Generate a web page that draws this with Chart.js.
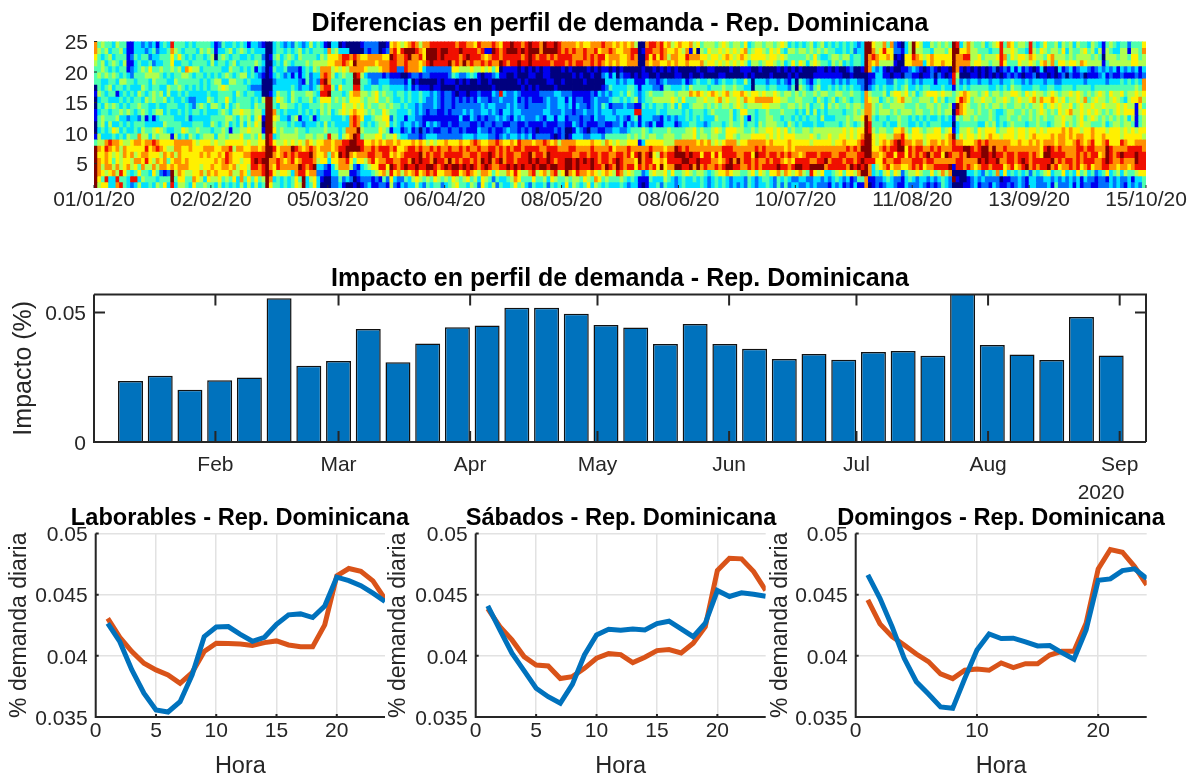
<!DOCTYPE html>
<html>
<head>
<meta charset="utf-8">
<script src="https://cdn.jsdelivr.net/npm/chart.js@4"></script>
<style>
html, body { margin: 0; background: #fff; width: 1192px; height: 776px; overflow: hidden; }
canvas { position: absolute; }
</style>
</head>
<body>
<script>
// heat map: one string per day, levels 0-9, top row (24) first
const heatCols = [
"7765 4440 1001 1001 4999 9999","4544 4544 5343 4435 5767 7765","5435 5433 4434 5543 5666 5646","4543 4534 3454 4333 7877 7586",
"4354 3445 4343 4543 8766 7633","3435 4543 4354 4364 7654 5733","5444 3434 1344 5353 7766 7587","4543 4354 3435 3434 6555 5848",
"4345 4453 4344 3343 5776 6644","1111 1344 3435 2435 5666 7433","1121 2243 4344 3334 6675 5382","3343 3433 3443 3444 7657 6483",
"3334 4443 5454 2437 7667 4635","2343 5445 4345 4455 6676 7453","3243 4544 3544 1345 7878 5443","2324 6533 4433 3343 7666 5344",
"3432 4554 5534 1355 8765 7643","1233 4544 4445 3364 7867 5435","3343 5443 5435 4355 6756 7244","4344 4343 3533 4545 6677 7146",
"3444 4435 5344 4435 6564 6243","8766 5334 3443 4431 6576 7998","4543 4454 3343 3445 7757 6543","4463 5445 4334 3443 7777 7765",
"4344 3544 3433 3364 7666 7665","3434 7543 4344 4353 7667 7544","4443 6444 3233 2345 7766 6543","3434 5343 3224 3444 6666 6676",
"4344 5444 3344 3453 5666 6664","4544 3433 3353 3444 6676 5754","4434 4344 3344 3345 6766 6535","4543 4433 4533 3345 6776 6764",
"3455 4344 3453 4535 5766 7654","1103 4454 3353 4443 6667 6753","2344 4355 4444 4345 5676 6665","4354 3436 4435 4455 5767 7643",
"3443 3535 4654 5544 6788 7654","3534 5454 4433 5315 6877 6743","4345 4354 3345 4445 6566 7564","3443 4444 5455 3345 6766 5533",
"4534 3544 4446 5556 6765 6775","3434 4534 3445 4354 5676 6643","1344 3343 4445 5564 6676 5465","3434 4432 4334 3455 5788 8743",
"3345 1332 3455 5654 5789 8765","2344 3232 3345 6556 6688 7743","1323 2100 0543 1014 6789 8854","0000 0000 0999 9999 9999 9999",
"0010 1100 1999 9998 8997 7876","3343 4323 3447 6563 6877 6634","4454 3433 5634 5444 5668 8544","3433 3333 4553 3455 5777 7633",
"2345 4233 4454 3445 6786 7644","3454 2333 3343 2345 5777 7533","2343 2134 5543 4445 6988 7344","4434 2333 4433 5355 5876 7766",
"3554 1122 4344 1344 6787 9845","2344 3313 4433 3244 5688 8899","3445 4443 5434 3335 7788 7633","5344 3222 5543 4345 6898 8754",
"3445 5333 4344 1344 5777 9766","4435 4324 3443 3445 6665 3233","3455 7787 8655 4345 6766 3210","1345 7898 8644 4554 7776 2100",
"0766 7778 9655 4348 7743 1100","3466 5545 4443 3445 6676 3322","3567 6343 4544 3345 7766 5322","0377 5446 4445 3333 7897 7543",
"1388 6534 3566 4345 8887 7521","0387 5444 4455 3376 8998 7530","0076 7444 6656 7777 9976 5120","0089 7998 7667 8879 9964 2101",
"0077 7898 7656 7798 8976 1210","1067 7544 5566 6454 8876 3321","2267 6343 5445 3345 6775 4322","2177 5233 4554 3445 6787 5323",
"2277 5224 5545 4345 7888 6411","2276 5224 6644 5446 6776 6521","0077 6233 4454 5566 7877 8612","0167 7134 5456 6554 6887 8742",
"1267 7234 4545 6645 7888 6521","6798 8123 4454 2315 7768 9865","7888 8123 3344 4436 6877 8632","6677 2123 4343 3334 7667 7721",
"5877 2023 4433 3213 6678 8523","6988 8012 3343 1323 6788 9742","7997 7133 4434 3332 6887 8633","8977 7201 3333 3212 7889 8753",
"7877 7212 3322 2322 6788 9865","5786 6101 4433 2201 7899 8653","7667 3201 3322 1122 6778 8742","7998 2201 3221 1313 5788 9854",
"8999 2100 2222 1223 6877 9743","8998 2101 3332 1313 5789 8864","8888 2111 2221 1212 6888 7654","8998 2100 1111 1122 6778 8642",
"8988 2110 2222 1122 7787 9753","8889 2210 2221 1212 6889 8744","8887 6410 1112 1122 6787 9865","7888 6301 0222 1122 6788 9856",
"8977 5210 1122 3212 7887 8644","8889 5200 1223 1223 6778 9754","7897 5310 0122 1213 6878 8863","7888 6400 1223 3113 7787 9745",
"6887 5300 1122 2112 8788 8654","8787 5110 2322 1233 7877 7532","7878 6000 1233 2123 6789 8766","7167 5100 1223 1223 6788 9754",
"7178 6110 1132 2212 7899 8643","8987 4201 3233 2122 7887 7425","7887 6300 2222 3211 8778 7642","6779 0100 8321 2212 7889 8534",
"8888 1100 3223 3123 6777 8533","8987 1000 2233 2132 6888 9743","9988 1000 2222 1223 7788 8654","8988 1100 3333 3223 6877 9876",
"8889 0010 2123 2112 8878 8664","7978 1001 1222 3123 7788 9545","8888 0010 1112 2212 7888 8543","9999 1101 1222 2123 7899 8742",
"8988 0100 1122 2111 6878 9864","8978 1001 1122 3102 7889 8543","7788 0000 2122 2112 7788 9643","9988 1100 2223 1212 8778 9754",
"8978 1110 2333 3112 7899 8532","8987 0010 2222 3111 6888 9764","9978 0001 3222 1120 7887 9853","8888 0000 3332 3211 5788 8544",
"7788 1010 2333 3222 7788 8643","7887 0000 2122 1100 7789 9956","7788 1000 2332 2101 7889 9743","7877 0100 1111 2313 7878 8655",
"6778 0000 1232 2233 6779 9854","7778 0100 1222 1123 6788 8743","6887 0010 1123 2212 6789 8764","6777 1000 1112 2102 6778 8656",
"7788 0100 2222 1123 7889 9743","7877 1000 1333 3123 6788 8675","7688 0000 3222 2213 6777 8564","8787 1201 2243 2212 5788 7643",
"7766 1332 3233 3124 7788 9754","7877 0134 2313 3124 6877 8643","6776 1333 3422 3234 5678 7543","7677 0023 3423 2234 6789 9843",
"6666 1233 4323 3324 5788 8754","7766 0123 3433 2124 5777 7543","6777 0134 5323 1335 6887 8632","7887 0034 4423 3244 6767 8543",
"5877 0113 3518 4345 6786 6433","0000 0011 2218 1144 1799 8411","0100 1113 3343 3355 3777 7210","7887 0133 4433 3244 6788 8311",
"8866 0023 5443 3135 6898 7543","8787 1022 4533 2345 6766 8633","7767 0112 4544 2144 6756 6534","8886 1021 4543 1144 6787 9532",
"6776 0034 5533 3345 5676 6654","7657 1024 5544 2355 5788 7443","5676 0023 5654 3345 5788 7633","6777 1123 4534 2144 7998 9422",
"7666 0123 5454 3244 7898 9433","6566 0034 5633 3345 7799 8544","6787 0013 5434 4355 7889 8633","7176 0125 7443 3455 7798 9533",
"5676 0034 6454 4466 7788 7443","6076 1044 7554 3344 6789 9533","4567 0134 6554 4355 7768 7544","5465 0034 5643 3245 6788 8433",
"5656 1043 6554 3344 7788 7322","5566 1034 7545 3455 5767 7433","4565 0024 6654 5465 6787 8544","5656 0134 5744 4454 5766 7633",
"6565 0145 6554 4344 6887 8644","5676 0034 7654 4466 7888 9733","4565 1034 5545 5566 7889 9622","5656 0045 6553 3465 7787 8533",
"5565 0034 6664 4454 5779 8532","4676 1034 7556 5555 6777 7433","6765 1153 6746 3345 6788 7422","3453 1033 5654 1445 7788 8544",
"4565 0100 6654 4456 7767 7633","5665 0034 6753 3346 7898 8422","5664 1034 5754 4556 7787 7633","4565 0034 6764 4456 7887 8543",
"5456 0023 5765 5565 6778 8444","5666 0134 5754 5566 7787 8633","4565 0034 6654 4555 6788 8622","5654 1023 5654 4466 6778 9744",
"6465 0033 4545 3455 6787 8532","5353 1023 5544 4366 6676 8744","3544 0112 5454 4546 7787 7632","4546 1034 4454 3456 6676 8523",
"3444 0100 5543 4345 6778 9623","4546 1045 4554 3445 6768 9732","3545 0034 5443 4355 6778 8532","4453 0023 4455 3355 6788 8423",
"5545 0012 4433 4346 5787 9822","3466 0134 5345 4455 6787 9633","4545 1145 4543 3354 6778 9532","5434 1133 5454 5355 6788 9622",
"3534 0133 5333 3455 6789 7332","4443 1134 4454 3456 6787 8321","3455 0123 4544 3455 5778 8433","4354 1134 5354 4455 6778 8542",
"3345 0123 5444 4356 6788 8633","4453 0034 4543 4466 7787 8421","3354 1023 4454 5555 6878 7632","4433 2134 5344 4466 6778 9611",
"3244 0033 4455 5355 6877 8523","2344 0023 4454 5466 7788 9741","3333 1022 3345 6567 8989 8941","9999 9000 7777 9999 9998 9977",
"9977 7112 5677 7889 9998 7710","6786 3123 4555 4456 6678 3311","5577 2334 4544 3445 5676 5422","5665 3333 4355 4456 6766 6321",
"7865 1134 5445 4356 7878 7532","4675 0123 3545 3445 6787 8643","7665 1023 5454 4345 7887 6433","2201 0144 6555 4367 8868 7622",
"1210 0133 6654 5567 9988 7521","0100 1034 5755 4478 8987 6211","3366 1245 6545 4456 7667 6433","5566 2233 4545 3345 7887 7542",
"9987 3123 5444 4366 6778 8532","6577 2134 3455 3466 7888 7622","5567 1023 4545 4356 7878 8533","3453 0134 5544 3445 5787 6432",
"3466 1134 6554 4356 6798 7421","5377 2233 6455 3456 7878 7632","4566 1013 6644 3466 7787 8421","5566 0233 5455 4466 6887 8532",
"4567 1134 6544 3345 7767 8744","5466 1033 5345 4356 6797 8533","4666 0123 5455 3367 7787 9722","9999 9881 4410 1019 8877 1090",
"8977 7544 5698 5334 7878 8010","3677 1023 6877 4456 7888 8000","5687 0034 7766 5455 6977 7001","7787 1023 6655 5466 6997 8311",
"5555 0134 5445 4456 6887 7322","4556 1134 5544 5445 7787 6433","4466 0024 4555 4366 8889 7321","5445 1134 5644 4355 7998 8232",
"3455 0034 6554 4566 8999 8422","4354 1123 4545 5467 7788 7321","5455 2033 5454 4566 7998 8423","6465 0134 5553 3346 7789 8722",
"8888 1023 4543 4455 7787 8301","4576 2134 5654 4356 7877 6611","7544 1233 5545 5466 7788 7312","6664 3145 6445 4566 6788 8421",
"4554 1234 6554 4455 6777 6322","5466 3134 5654 5466 7788 7433","5465 1023 4545 4466 6789 8322","4355 2133 6554 4355 6788 9411",
"8876 1123 5645 5466 7777 7233","4565 0234 6754 4467 6788 8433","3454 1034 5555 5556 7778 7322","4656 3133 5766 4466 6668 8422",
"6547 0123 4645 5456 7898 8532","4465 1034 5654 4366 7998 9633","4577 1134 6765 4467 7889 7321","5554 0023 5654 5566 6787 8434",
"3456 3123 4566 5567 7888 6422","5656 1234 5655 6677 7787 7632","4345 2034 5456 5466 6778 7322","5556 3234 6567 5577 6778 8433",
"3446 1133 5545 4466 7777 7321","5455 2134 6655 5567 8888 8633","4557 3234 5566 6657 7877 6411","4656 3024 4755 4566 6788 7532",
"3455 2134 5456 5566 7878 8322","5545 1133 4565 6477 8888 6421","4355 2134 5656 5466 6787 7211","3545 3234 6555 4466 6767 7322",
"1101 2334 5564 5567 7778 8422","4554 3124 4455 4356 8999 8612","5455 2234 6554 5466 6888 7333","4355 3134 5655 4566 6777 7422",
"3345 1134 5566 5566 6787 6533","4555 3244 6455 4455 8798 7322","4555 2134 4366 5566 7787 7521","2145 3144 5556 3556 6887 6433",
"4566 2134 5656 5466 6887 7412","4566 3245 6611 1156 7899 8533","4445 1134 5765 4466 7888 8632","6755 3277 6546 5565 7788 8644"
];
const heatColors = ['#00007F','#0000F0','#0070FF','#00E0FF','#50FFAF','#B0FF50','#FFF000','#FF9000','#F01000','#800000'];
const heatDateTicks = [0, 32, 64, 96, 128, 160, 192, 224, 256, 288];
const heatDateLabels = ['01/01/20','02/02/20','05/03/20','06/04/20','08/05/20','08/06/20','10/07/20','11/08/20','13/09/20','15/10/20'];
const heatRowTicks = [5, 10, 15, 20, 25];

// weekly bars, x in days since 1 Jan
const barDays = [11,18,25,32,39,46,53,60,67,74,81,88,95,102,109,116,123,130,137,144,151,158,165,172,179,186,193,200,207,214,221,228,235,242];
const barValues = [0.0235,0.0256,0.0202,0.0238,0.0249,0.0555,0.0294,0.0312,0.0436,0.0308,0.038,0.0443,0.0449,0.0518,0.0518,0.0495,0.0451,0.0442,0.0378,0.0455,0.0378,0.036,0.032,0.0339,0.0317,0.0347,0.0351,0.0333,0.058,0.0374,0.0338,0.0316,0.0482,0.0334];
const monthDays = [31, 60, 91, 121, 152, 182, 213, 244];
const monthLabels = ['Feb','Mar','Apr','May','Jun','Jul','Aug','Sep'];

// daily profiles
const hours = [1,2,3,4,5,6,7,8,9,10,11,12,13,14,15,16,17,18,19,20,21,22,23,24];
const labBlue = [0.04266,0.04116,0.03885,0.03694,0.03557,0.03541,0.03625,0.03844,0.04157,0.04236,0.04239,0.04176,0.04119,0.04152,0.04258,0.04335,0.04343,0.04313,0.04408,0.04643,0.04615,0.04574,0.04512,0.04444];
const labOrange = [0.04307,0.04152,0.04035,0.03939,0.03885,0.03844,0.03775,0.03863,0.04035,0.04103,0.041,0.04097,0.04084,0.04108,0.04122,0.04089,0.04075,0.04075,0.04253,0.04654,0.04714,0.04692,0.04613,0.04465];
const sabBlue = [0.04408,0.04212,0.04021,0.03879,0.03735,0.03666,0.03612,0.03767,0.04007,0.04171,0.04217,0.04209,0.0422,0.04212,0.04264,0.04283,0.0422,0.04157,0.04266,0.04534,0.04485,0.04515,0.04504,0.04487];
const sabOrange = [0.04386,0.04239,0.0413,0.03994,0.03925,0.03917,0.03814,0.0383,0.03898,0.0398,0.04018,0.0401,0.03945,0.03988,0.04043,0.04051,0.04024,0.04103,0.04239,0.04697,0.04798,0.04793,0.04689,0.04534];
const domBlue = [0.04662,0.04471,0.04239,0.0398,0.03789,0.03688,0.03582,0.03571,0.03816,0.04048,0.04179,0.04141,0.04144,0.04114,0.04081,0.04084,0.04026,0.03972,0.04212,0.04618,0.04629,0.04697,0.04711,0.04632];
const domOrange = [0.04457,0.04261,0.04157,0.04089,0.04015,0.03953,0.03852,0.03814,0.03882,0.03893,0.03882,0.03942,0.03904,0.03936,0.03936,0.04007,0.04037,0.04037,0.04266,0.04711,0.04869,0.04847,0.0473,0.0458];
const demandTicks = [0.035, 0.04, 0.045, 0.05];
const demandLabels = ['0.035','0.04','0.045','0.05'];

const TEXT = '#262626';
const FONT = 'Liberation Sans, Arial, sans-serif';
const TICK_FONT = { family: FONT, size: 21 };

// box and inward ticks, matlab style
const frame = {
    id: 'frame',
    afterDatasetsDraw(chart, args, o) {
        const { ctx, chartArea: a, scales } = chart;
        ctx.save();
        ctx.strokeStyle = TEXT;
        ctx.lineWidth = o.lineWidth;
        ctx.beginPath();
        if (o.axes) {
            ctx.moveTo(a.left, a.top); ctx.lineTo(a.left, a.bottom); ctx.lineTo(a.right, a.bottom);
        }
        if (o.box) {
            ctx.moveTo(a.left, a.top); ctx.lineTo(a.right, a.top); ctx.lineTo(a.right, a.bottom);
        }
        scales.x.ticks.forEach(t => {
            const p = scales.x.getPixelForValue(t.value);
            ctx.moveTo(p, a.bottom); ctx.lineTo(p, a.bottom - o.tick);
            if (o.box) { ctx.moveTo(p, a.top); ctx.lineTo(p, a.top + o.tick); }
        });
        scales.y.ticks.forEach(t => {
            const p = scales.y.getPixelForValue(t.value);
            ctx.moveTo(a.left, p); ctx.lineTo(a.left + o.tick, p);
            if (o.box) { ctx.moveTo(a.right, p); ctx.lineTo(a.right - o.tick, p); }
        });
        ctx.stroke();
        if (o.note) {
            ctx.fillStyle = TEXT;
            ctx.font = '21px ' + FONT;
            ctx.textAlign = 'center';
            ctx.textBaseline = 'middle';
            ctx.fillText(o.note.text, o.note.x, o.note.y);
        }
        ctx.restore();
    }
};

function scaleX(min, max, ticks, labels, fitHeight, padding, grid, title) {
    return {
        type: 'linear', min, max, offset: false,
        afterBuildTicks(s) { s.ticks = ticks.map(v => ({ value: v })); },
        afterFit(s) { s.height = fitHeight; },
        grid: { display: grid, color: '#e2e2e2', lineWidth: 1.5, drawTicks: false, offset: false },
        border: { display: false },
        ticks: {
            color: TEXT, font: TICK_FONT, padding, maxRotation: 0, autoSkip: false,
            callback: (v, i) => labels ? labels[i] : String(v)
        },
        title: title ? { display: true, text: title, color: TEXT, font: { family: FONT, size: 23.5 }, padding: { top: 0, bottom: 3 } } : { display: false }
    };
}

function scaleY(min, max, ticks, labels, fitWidth, padding, grid, title, titleTop, titleSize) {
    return {
        type: 'linear', min, max,
        afterBuildTicks(s) { s.ticks = ticks.map(v => ({ value: v })); },
        afterFit(s) { s.width = fitWidth; },
        grid: { display: grid, color: '#e2e2e2', lineWidth: 1.5, drawTicks: false },
        border: { display: false },
        ticks: {
            color: TEXT, font: TICK_FONT, padding, autoSkip: false, labelOffset: 2,
            callback: (v, i) => labels ? labels[i] : String(v)
        },
        title: title ? { display: true, text: title, color: TEXT, font: { family: FONT, size: titleSize }, padding: { top: titleTop, bottom: 0 } } : { display: false }
    };
}

// empty right axis keeps the title centred over the plot
function spacer(width) {
    return {
        type: 'linear', position: 'right',
        afterFit(s) { s.width = width; },
        grid: { display: false, drawTicks: false },
        border: { display: false },
        ticks: { display: false }
    };
}

function makeChart(box, type, datasets, scales, titleText, titleSize, titleGap, frameOpts) {
    const c = document.createElement('canvas');
    c.width = box.w; c.height = box.h;
    c.style.left = box.x + 'px'; c.style.top = box.y + 'px';
    document.body.appendChild(c);
    return new Chart(c, {
        type,
        data: { datasets },
        plugins: [frame],
        options: {
            responsive: false,
            animation: false,
            normalized: true,
            layout: { padding: 0 },
            scales,
            plugins: {
                legend: { display: false },
                tooltip: { enabled: false },
                title: {
                    display: true, text: titleText, color: '#000',
                    font: { family: FONT, size: titleSize, weight: 'bold', lineHeight: 1.2 },
                    padding: { top: 0, bottom: titleGap }
                },
                frame: frameOpts
            }
        }
    });
}

// heat map
const cols = heatCols.map(s => s.replace(/ /g, ''));
const heatSets = [];
for (let t = 0; t < 24; t++) {
    const row = 24 - t;
    heatSets.push({
        data: cols.map((s, d) => ({ x: d + 0.5, y: [row, row + 1] })),
        backgroundColor: cols.map(s => heatColors[+s[t]]),
        borderWidth: 0,
        inflateAmount: 0.4,
        grouped: false,
        barPercentage: 1,
        categoryPercentage: 1
    });
}
makeChart({ x: 0, y: 8.5, w: 1240, h: 219.5 }, 'bar', heatSets, {
    x: scaleX(0, 288, heatDateTicks, heatDateLabels, 40, 0, false),
    y: scaleY(1, 25, heatRowTicks, null, 94, 6, false),
    r: spacer(94)
}, 'Diferencias en perfil de demanda - Rep. Dominicana', 25, 2.5, { axes: false, box: false, tick: 3, lineWidth: 1 });

// weekly impact bars
makeChart({ x: 0, y: 263.5, w: 1240, h: 240.5 }, 'bar', [{
    data: barDays.map((d, i) => ({ x: d, y: barValues[i] })),
    backgroundColor: '#0072BD',
    borderColor: '#111',
    borderWidth: 1.5,
    barPercentage: 0.84,
    categoryPercentage: 1
}], {
    x: scaleX(2.4, 250.2, monthDays, monthLabels, 62, 11, false),
    y: scaleY(0, 0.0569, [0, 0.05], ['0', '0.05'], 94, 8, false, 'Impacto (%)', 9, 25),
    r: spacer(94)
}, 'Impacto en perfil de demanda - Rep. Dominicana', 25, 0.5,
    { axes: true, box: true, tick: 11, lineWidth: 2, note: { text: '2020', x: 1101, y: 229.5 } });

// daily profiles
function profile(x0, plotLeft, plotRight, xTicks, blue, orange, titleText, labelTop) {
    const line = (vals, color) => ({
        data: hours.map((h, i) => ({ x: h, y: vals[i] })),
        borderColor: color, borderWidth: 5, pointRadius: 0, tension: 0, fill: false
    });
    makeChart({ x: x0, y: 504, w: 480, h: 280 }, 'line', [line(blue, '#0072BD'), line(orange, '#D95319')], {
        x: scaleX(0, 24, xTicks, null, 67, 2, true, 'Hora'),
        y: scaleY(0.035, 0.05, demandTicks, demandLabels, plotLeft - x0, 8, true, '% demanda diaria', labelTop, 23),
        r: spacer(x0 + 480 - plotRight)
    }, titleText, 23.6, 1.2, { axes: true, box: false, tick: 3, lineWidth: 2 });
}
profile(0, 95.7, 385, [0, 5, 10, 15, 20], labBlue, labOrange, 'Laborables - Rep. Dominicana', 6);
profile(381, 475.7, 765.7, [0, 5, 10, 15, 20], sabBlue, sabOrange, 'Sábados - Rep. Dominicana', 4);
profile(761, 855.7, 1146.7, [0, 10, 20], domBlue, domOrange, 'Domingos - Rep. Dominicana', 6);
</script>
</body>
</html>
